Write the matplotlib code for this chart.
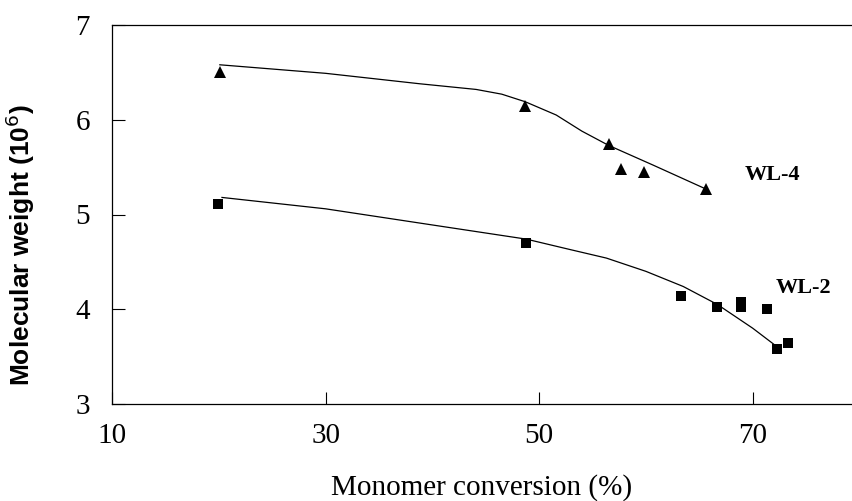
import matplotlib
matplotlib.use("Agg")
import matplotlib.pyplot as plt

# measured points
wl4_x = [20.1, 48.7, 56.5, 57.7, 59.8, 65.6]
wl4_y = [6.50, 6.15, 5.74, 5.48, 5.45, 5.27]
wl2_x = [19.9, 48.8, 63.3, 66.7, 68.9, 68.9, 71.3, 72.3, 73.3]
wl2_y = [5.11, 4.70, 4.14, 4.02, 4.08, 4.02, 4.00, 3.58, 3.64]

# fitted curves
fit4_x = [20.1, 30.0, 38.8, 44.1, 46.5, 48.7, 51.6, 54.0, 56.5, 60.7, 65.6]
fit4_y = [6.58, 6.49, 6.38, 6.32, 6.27, 6.19, 6.05, 5.88, 5.73, 5.52, 5.27]
fit2_x = [20.3, 30.0, 38.8, 48.8, 52.9, 56.3, 60.0, 63.5, 66.7, 70.0, 72.1]
fit2_y = [5.18, 5.06, 4.91, 4.74, 4.63, 4.54, 4.40, 4.24, 4.05, 3.80, 3.62]

xticks = [10, 30, 50, 70]
yticks = [3, 4, 5, 6, 7]

fig = plt.figure(figsize=(8.52, 5.01), dpi=100)
ax = fig.add_axes([112 / 852, 1 - 404 / 501, 740 / 852, 379 / 501])

ax.plot(fit4_x, fit4_y, color="black", lw=0.9)
ax.plot(fit2_x, fit2_y, color="black", lw=0.9)
ax.plot(wl4_x, wl4_y, "^", color="black", ms=8.5, mew=0)
ax.plot(wl2_x, wl2_y, "s", color="black", ms=7.5, mew=0)

ax.set_xlim(10, 79.3)
ax.set_ylim(3, 7)
ax.set_xticks(xticks)
ax.set_yticks(yticks)
ax.spines["right"].set_visible(False)
for s in ["left", "bottom", "top"]:
    ax.spines[s].set_linewidth(0.9)
ax.tick_params(direction="in", length=9, width=0.8)
ax.tick_params(axis="y", pad=16)
ax.tick_params(axis="x", pad=14)
for lab in ax.get_xticklabels() + ax.get_yticklabels():
    lab.set_fontfamily("Liberation Serif")
    lab.set_fontsize(21)

ax.text(65.6 + (745 - 705.7) / 10.68, 7 - (180 - 25) / 94.75, "WL-4",
        fontfamily="Liberation Serif", fontweight="bold", fontsize=16)
ax.text(10 + (776 - 112) / 10.68, 7 - (293 - 25) / 94.75, "WL-2",
        fontfamily="Liberation Serif", fontweight="bold", fontsize=16)

fig.text(482 / 852, 1 - 495 / 501, "Monomer conversion (%)",
         fontfamily="Liberation Serif", fontsize=21, ha="center", va="baseline")
fig.text(20 / 852, 1 - 245 / 501, "Molecular weight (10$^{6}$)",
         fontfamily="Liberation Sans", fontweight="bold", fontsize=19,
         rotation=90, ha="center", va="center")

fig.savefig("out.png", dpi=100)
